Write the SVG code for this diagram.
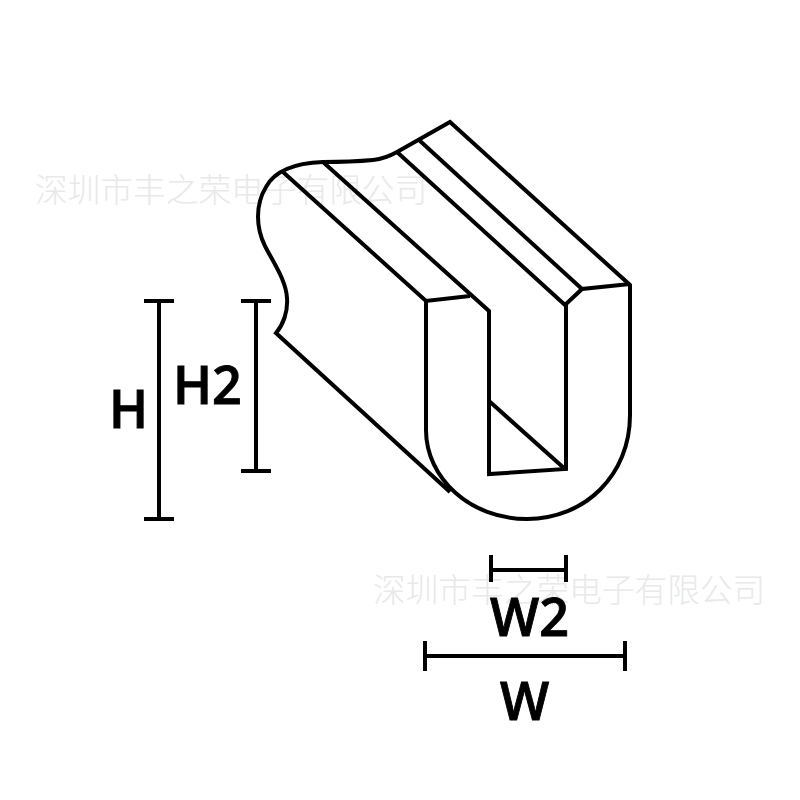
<svg xmlns="http://www.w3.org/2000/svg" width="800" height="800" viewBox="0 0 800 800">
<style>
.s{fill:none;stroke:#000;stroke-width:4;stroke-linejoin:miter;stroke-linecap:butt}
.d{fill:none;stroke:#000;stroke-width:4}
.t{font-family:"Open Sans","Noto Sans",sans-serif;font-weight:600;font-size:52px;fill:#000;stroke:#000;stroke-width:.9}
.m{font-family:"Noto Sans CJK SC",sans-serif;font-weight:300;font-size:32.7px;fill:#e9e9e9}
</style>
<rect width="800" height="800" fill="#fff"/>
<g id="watermarks">
<text class="m" x="35" y="202">深圳市丰之荣电子有限公司</text>
<text class="m" x="373" y="602">深圳市丰之荣电子有限公司</text>
</g>
<g id="profile">
<path class="s" d="M450 492L276 333C283 325 288 312 287 298C286 280 273 262 265 246C256 228 255 205 266 187C275 170 297 163 323 162C345 162 362 161 373 160C382 159 390 156 397 152L450 122L630 285V415C630 475 585 519 527 519C470 519 426 478 426 430V301"/>
<path class="s" d="M283 172L426 301L470 296"/>
<path class="s" d="M323 162L489 311V474L566 469V305"/>
<path class="s" d="M397 152L565 305L582 289L630 284"/>
<path class="s" d="M419 140L582 289"/>
<path class="s" d="M489 401L565 469"/>
</g>
<g id="dimensions">
<path class="d" d="M159 301V519M144 301H174M144 519H174"/>
<path class="d" d="M256 301V471M241 301H271M241 471H271"/>
<path class="d" d="M491 570H566M491 555V582M566 555V582"/>
<path class="d" d="M425 656H625M425 641V671M625 641V671"/>
</g>
<g id="labels">
<text class="t" x="109" y="428">H</text>
<text class="t" x="173" y="404">H2</text>
<text class="t" x="490" y="636">W2</text>
<text class="t" x="500" y="720">W</text>
</g>
</svg>
